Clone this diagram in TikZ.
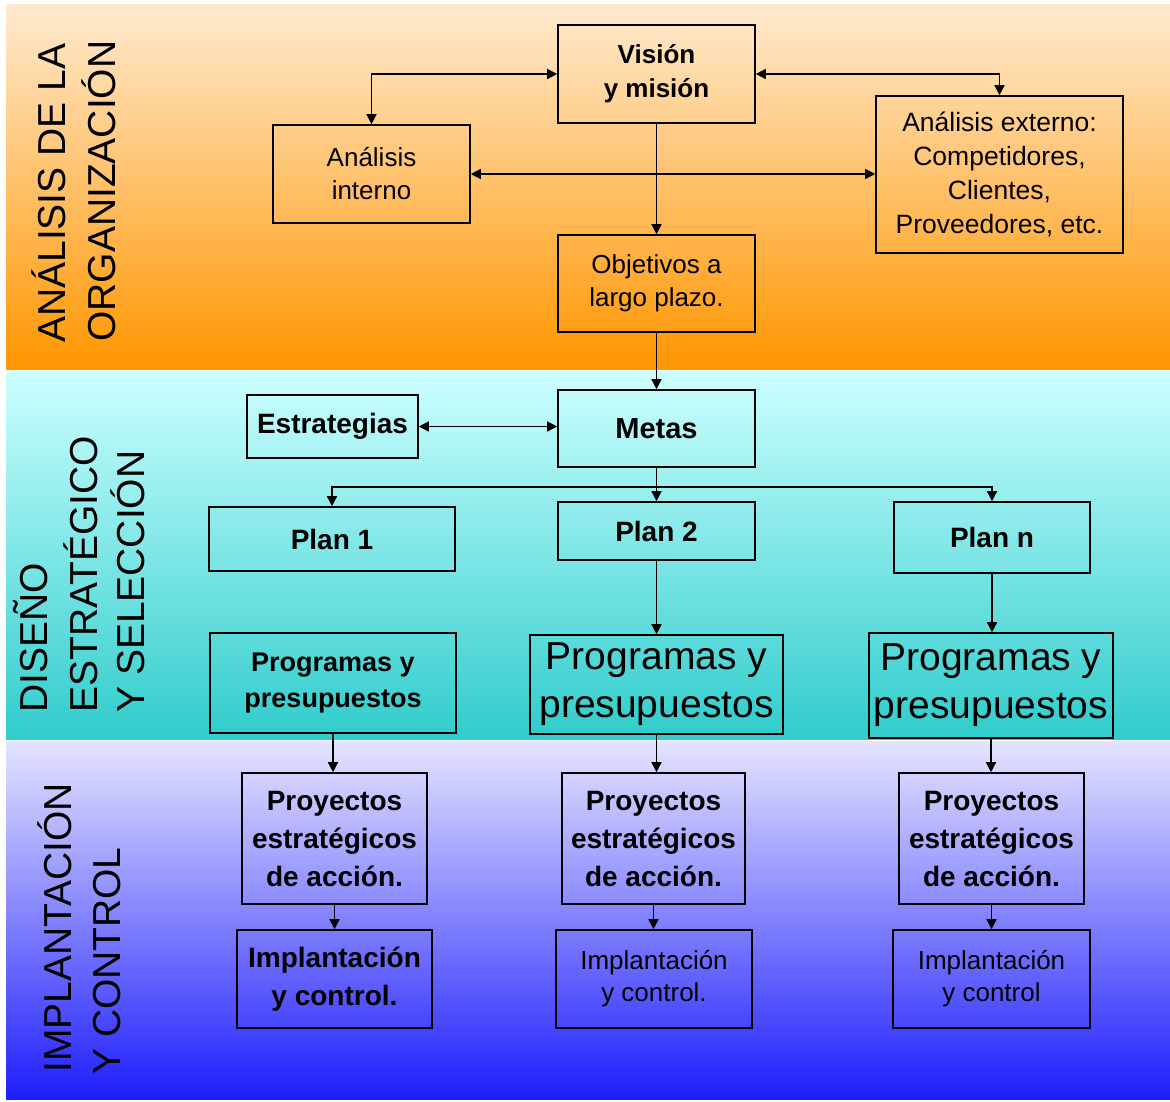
\documentclass[tikz,border=0pt]{standalone}
\usepackage{fontspec}
\setmainfont{Liberation Sans}
\usetikzlibrary{arrows.meta}

\definecolor{orTop}{RGB}{255,234,208}
\definecolor{orMid}{RGB}{255,204,158}
\definecolor{orBot}{RGB}{255,150,0}
\definecolor{cyTop}{RGB}{205,255,255}
\definecolor{cyMid}{RGB}{135,232,232}
\definecolor{cyBot}{RGB}{48,204,204}
\definecolor{blTop}{RGB}{228,228,255}
\definecolor{blMid}{RGB}{165,165,255}
\definecolor{blBot}{RGB}{30,30,252}

\begin{document}
\begin{tikzpicture}[x=1pt,y=-1pt,
  box/.style={draw=black,line width=1.6pt,inner sep=0pt,align=center},
  reg/.style={font=\fontsize{26}{33}\selectfont},
  regbig/.style={font=\fontsize{39}{48}\selectfont},
  bld/.style={font=\bfseries\fontsize{28}{38}\selectfont},
  bldsmall/.style={font=\bfseries\fontsize{26}{34}\selectfont},
  tip/.tip={Triangle[length=10pt,width=10pt]},
  conn/.style={line width=1.4pt,-tip},
  biconn/.style={line width=1.4pt,tip-tip},
  plainline/.style={line width=1.4pt},
  bandlabel/.style={rotate=90,anchor=base west,inner sep=0pt,font=\fontsize{39}{39}\selectfont},
]
\useasboundingbox (0,0) rectangle (1170,1101);

% coloured bands
\shade[top color=orTop,middle color=orMid,bottom color=orBot] (6,4) rectangle (1170,369);
\shade[top color=cyTop,middle color=cyMid,bottom color=cyBot] (6,371) rectangle (1170,739);
\shade[top color=blTop,middle color=blMid,bottom color=blBot] (6,741) rectangle (1170,1099);

% band titles
\node[bandlabel] (t1a) at (65,343) {ANÁLISIS DE LA};
\node[bandlabel] (t1b) at (115,342) {ORGANIZACIÓN};
\node[bandlabel] (t2a) at (47,713) {DISEÑO};
\node[bandlabel] (t2b) at (97,713) {ESTRATÉGICO};
\node[bandlabel] (t2c) at (144,713) {Y SELECCIÓN};
\node[bandlabel] (t3a) at (71,1073) {IMPLANTACIÓN};
\node[bandlabel] (t3b) at (120,1075) {Y CONTROL};

% analysis
\node[box,bldsmall,minimum width=197pt,minimum height=98pt] (vision) at (656.5,74) {Visión\\y misión};
\node[box,reg,minimum width=197pt,minimum height=98pt] (interno) at (371.5,174) {Análisis\\interno};
\node[box,reg,minimum width=247pt,minimum height=157pt,font=\fontsize{26.5}{34}\selectfont] (externo) at (999.5,174.5) {Análisis externo:\\Competidores,\\Clientes,\\Proveedores, etc.};
\node[box,reg,minimum width=197pt,minimum height=97pt] (objetivos) at (656.5,283.5) {Objetivos a\\largo plazo.};

% design
\node[box,bld,minimum width=197pt,minimum height=77pt,font=\bfseries\fontsize{29}{38}\selectfont] (metas) at (656.5,428.5) {Metas};
\node[box,bld,minimum width=171pt,minimum height=63pt] (estrategias) at (332.5,426.5) {Estrategias};
\node[box,bld,minimum width=246pt,minimum height=64pt] (plan1) at (332,539) {Plan 1};
\node[box,bld,minimum width=197pt,minimum height=58pt] (plan2) at (656.5,531) {Plan 2};
\node[box,bld,minimum width=196pt,minimum height=71pt] (plann) at (992,537.5) {Plan n};
\node[box,bld,minimum width=246pt,minimum height=100pt,font=\bfseries\fontsize{27}{36}\selectfont] (prog1) at (333,683) {Programas y\\presupuestos};
\node[box,regbig,minimum width=253pt,minimum height=99pt] (prog2) at (656.5,684.5) {Programas y\\presupuestos};
\node[box,regbig,minimum width=244pt,minimum height=105pt] (progn) at (991,685.5) {Programas y\\presupuestos};

% implementation
\node[box,bld,minimum width=185pt,minimum height=131pt] (proy1) at (334.5,838.5) {Proyectos\\estratégicos\\de acción.};
\node[box,bld,minimum width=183pt,minimum height=131pt] (proy2) at (653.5,838.5) {Proyectos\\estratégicos\\de acción.};
\node[box,bld,minimum width=185pt,minimum height=131pt] (proyn) at (991.5,838.5) {Proyectos\\estratégicos\\de acción.};
\node[box,bld,minimum width=195pt,minimum height=98pt] (impl1) at (334.5,979) {Implantación\\y control.};
\node[box,reg,minimum width=196pt,minimum height=98pt,font=\fontsize{26}{32}\selectfont] (impl2) at (654,979) {Implantación\\y control.};
\node[box,reg,minimum width=197pt,minimum height=98pt,font=\fontsize{26}{32}\selectfont] (impln) at (991.5,979) {Implantación\\y control};

% connectors
\draw[biconn] (vision.west) -| (interno.north);
\draw[biconn] (vision.east) -| (externo.north);
\draw[biconn] (interno.east) -- (interno.east -| externo.west);
\draw[conn] (vision.south) -- (objetivos.north);
\draw[conn] (objetivos.south) -- (metas.north);
\draw[biconn] (estrategias.east) -- (estrategias.east -| metas.west);

\coordinate (split) at (656.5,487);
\draw[plainline] (metas.south) -- (split);
\draw[conn] (split) -| (plan1.north);
\draw[conn] (split) -- (plan2.north);
\draw[conn] (split) -| (plann.north);

\draw[conn] (plan2.south) -- (prog2.north);
\draw[conn] (plann.south) -- (plann.south |- progn.north);

\draw[conn] (prog1.south) -- (prog1.south |- proy1.north);
\draw[conn] (prog2.south) -- (prog2.south |- proy2.north);
\draw[conn] (progn.south) -- (progn.south |- proyn.north);

\draw[conn] (proy1.south) -- (impl1.north);
\draw[conn] (proy2.south) -- (proy2.south |- impl2.north);
\draw[conn] (proyn.south) -- (proyn.south |- impln.north);
\end{tikzpicture}
\end{document}
